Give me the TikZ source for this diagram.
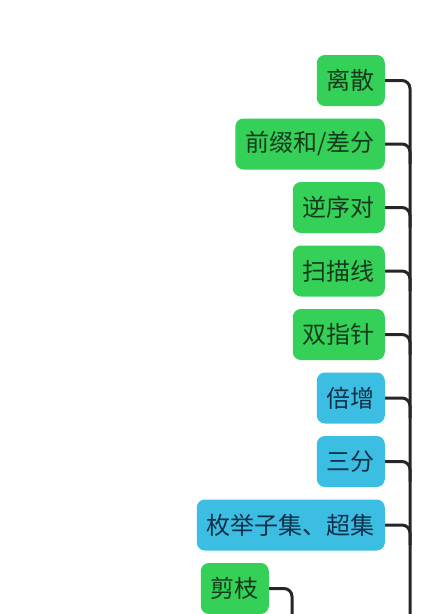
\documentclass[tikz,border=0pt]{standalone}
\usepackage{fontspec}
\newfontfamily\cjk{Noto Sans CJK SC}
\definecolor{leafgreen}{HTML}{35D058}
\definecolor{leafblue}{HTML}{3CBEE3}
\definecolor{inkgreen}{HTML}{173A1E}
\definecolor{inkblue}{HTML}{123047}

\begin{document}
\begin{tikzpicture}[x=1pt, y=-1pt,
	topic/.style={rounded corners=8pt, minimum height=51pt, inner xsep=10pt, anchor=east, font=\cjk\fontsize{24pt}{24pt}\selectfont},
	greentopic/.style={topic, fill=leafgreen, text=inkgreen},
	bluetopic/.style={topic, fill=leafblue, text=inkblue},
	branch/.style={line width=3pt, draw=black!85, rounded corners=8pt}]
	\useasboundingbox (0,0) rectangle (437,614);
	\node[greentopic] (lisan) at (385,80.5) {离散};
	\node[greentopic] (qianzhui) at (385,144) {前缀和/差分};
	\node[greentopic] (nixu) at (385,207.5) {逆序对};
	\node[greentopic] (saomiao) at (385,271) {扫描线};
	\node[greentopic] (shuangzhi) at (385,334.5) {双指针};
	\node[bluetopic] (beizeng) at (385,398) {倍增};
	\node[bluetopic] (sanfen) at (385,461.5) {三分};
	\node[bluetopic] (meiju) at (385,525) {枚举子集、超集};
	\node[greentopic] (jianzhi) at (269,588.5) {剪枝};
	\coordinate (trunk) at (410,614);
	\coordinate (jianzhiend) at (292,614);
	\draw[branch] (lisan.east) -| (trunk);
	\draw[branch] (qianzhui.east) -| ([yshift=-20pt]qianzhui.east -| trunk);
	\draw[branch] (nixu.east) -| ([yshift=-20pt]nixu.east -| trunk);
	\draw[branch] (saomiao.east) -| ([yshift=-20pt]saomiao.east -| trunk);
	\draw[branch] (shuangzhi.east) -| ([yshift=-20pt]shuangzhi.east -| trunk);
	\draw[branch] (beizeng.east) -| ([yshift=-20pt]beizeng.east -| trunk);
	\draw[branch] (sanfen.east) -| ([yshift=-20pt]sanfen.east -| trunk);
	\draw[branch] (meiju.east) -| ([yshift=-20pt]meiju.east -| trunk);
	\draw[branch] (jianzhi.east) -| (jianzhiend);
\end{tikzpicture}
\end{document}
